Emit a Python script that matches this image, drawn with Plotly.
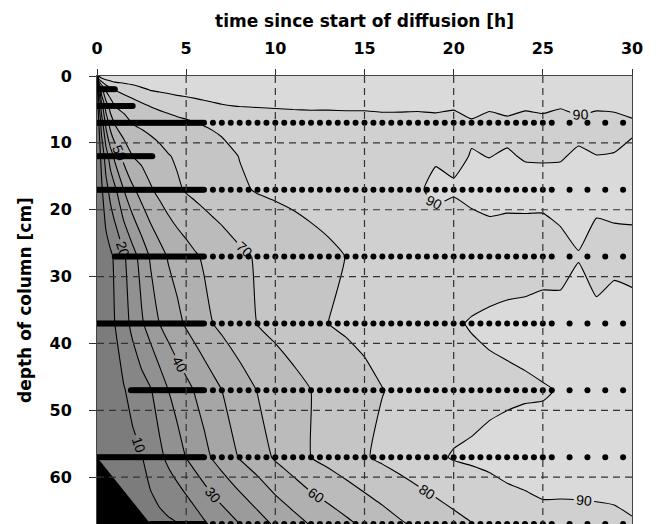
import numpy as np
import plotly.graph_objects as go

# ---------------- data ----------------
TIME_H = [0, 0.1, 0.25, 0.5, 0.75, 1, 1.5, 2, 2.5, 3, 3.5, 4, 4.5, 5, 5.5, 6, 6.5, 7,
          8, 9, 10, 11, 12, 13, 14, 15, 16, 17, 18, 19, 20, 21, 22, 23, 24, 25, 26,
          27, 28, 29, 30]
DEPTH_CM = [0, 2, 4.5, 7, 12, 17, 27, 37, 47, 57, 67]

Z_D0 = [0, 94, 96, 97, 97.5, 98, 98, 98, 98, 98, 98, 98, 98, 98, 98, 98, 98, 98, 98, 98,
        98, 98, 98, 98, 98, 98, 98, 98, 98, 98, 98, 98, 98, 98, 98, 98, 98, 98, 98, 98, 98]
Z_D2 = [0, 30, 56.3, 71.7, 76.9, 80.5, 83.2, 85.8, 88.6, 90.6, 91.5, 92.2, 92.8, 93.2,
        93.5, 93.8, 94.0, 94.1, 94.3, 94.5, 94.5, 94.5, 94.5, 94.5, 94.5, 94.5, 94.5,
        94.5, 94.5, 94.5, 94.5, 94.5, 94.5, 94.5, 94.5, 94.5, 94.5, 94.5, 94.5, 94.5, 94.5]
Z_D4_5 = [0, 16.7, 35, 54.4, 63.8, 70, 72.6, 75.3, 77.9, 80.3, 81.9, 83.4, 85.0, 86.0,
          87.0, 88.0, 88.8, 89.5, 90.2, 90.6, 90.9, 91.1, 91.2, 90.95, 91.1, 91.05, 91.5,
          91.4, 91.2, 91.7, 90.8, 93.3, 91.2, 92.25, 91.0, 91.8, 90.5, 92.3, 91.0, 91.4, 93.9]
Z_D7 = [0, 10, 24.2, 42.9, 54.6, 61.1, 66.7, 70.5, 71.8, 73.2, 74.5, 75.8, 77.1, 78.4,
        79.7, 80.5, 81.1, 81.7, 82.8, 83.8, 84.7, 85.6, 86.3, 87.0, 87.2, 87.3, 87.4,
        87.5, 87.5, 87.5, 87.5, 89.0, 87.5, 88.5, 87.5, 87.8, 87.3, 88.2, 87.5, 87.6, 88.5]
Z_D12 = [0, 5, 12.5, 24.5, 34.6, 42.5, 52.9, 60, 62.4, 64.8, 67.1, 69.5, 71.1, 72.4,
         73.7, 75.1, 76.4, 77.7, 80.2, 81.2, 82.1, 83.0, 83.8, 84.6, 85.4, 86.2, 87.0,
         87.8, 88.5, 89.1, 88.5, 90.3, 89.9, 90.5, 89.6, 89.5, 89.6, 90.8, 90.1, 90.3, 91.8]
Z_D17 = [0, 3.3, 8.3, 16.7, 23, 28, 40, 48.3, 54, 59, 62.5, 65.6, 68.75, 70.8, 72.2,
         73.5, 74.9, 76.2, 78.9, 80.6, 81.5, 82.4, 83.4, 84.3, 85.3, 86.2, 87.1, 88.1,
         89.0, 92, 90.8, 92, 92, 92, 92, 92, 92, 92, 92, 92, 92]
Z_D27 = [0, 1.1, 2.8, 5.6, 8.3, 11.4, 18.6, 26.2, 33.8, 41.1, 46.3, 50.8, 53.5, 56.2,
         58.9, 61.1, 62.9, 64.6, 68.2, 70.9, 72.8, 74.6, 76.5, 78.3, 80.2, 81.2, 82,
         82.6, 83, 83.3, 83.5, 84.9, 87, 86.3, 86.4, 86.3, 88.4, 89.8, 87.3, 88, 88.2]
Z_D37 = [0, 1, 2.5, 5, 7.5, 10, 16.25, 22.5, 28.75, 34.4, 40, 43.8, 47.7, 51.2, 54.1,
         57.1, 60, 62.1, 66.25, 70.25, 72.75, 75.25, 77.75, 80.1, 81.4, 82.7, 83.9, 85.2,
         86.5, 87.7, 89.0, 90.6, 91, 92, 92.4, 93.7, 91.6, 92, 91.8, 93.6, 92.1]
Z_D47 = [0, 0.6, 1.6, 3.1, 4.7, 6.25, 9.4, 12.7, 16, 19.3, 24.4, 30, 33.6, 37.1, 40.6,
         43.75, 46.9, 50, 55.3, 60.3, 63.5, 66.8, 70, 72.4, 74.9, 77.3, 79.8, 81.2, 82.6,
         83.9, 85.3, 86.6, 88.5, 88.4, 89.0, 89.5, 90.3, 91.5, 92, 92, 92]
Z_D57 = [0, 0.4, 1, 1.9, 2.9, 3.8, 5.8, 7.7, 9.6, 13.5, 17.8, 22.1, 26.2, 30.3, 33.8,
         37.3, 40.9, 44.2, 50.7, 55.5, 61.2, 65.6, 70, 73.1, 76.2, 79.2, 81.7, 83.9, 86.2,
         88.4, 90.7, 91.5, 91.8, 93.7, 94, 92.6, 93, 93, 93, 93, 93]
Z_D67 = [0, 0.2, 0.5, 1.1, 1.6, 2.1, 3.2, 4.3, 5.3, 6.4, 7.4, 8.5, 9.6, 12, 15.3, 18.7,
         21.7, 24.4, 30, 35.9, 41.4, 46.2, 50.7, 54.4, 58.1, 61.8, 65.4, 68.9, 71.8, 74.5,
         77.1, 79.7, 84, 84.2, 86, 88.5, 88.2, 88.3, 88.5, 88.8, 89.6]

LEVEL_START, LEVEL_END, LEVEL_STEP = 10, 90, 10

# measurement schedule (sampling rows)
ROW_DEPTHS = [2, 4.5, 7, 12, 17, 27, 37, 47, 57, 67]
DENSE_START = [0, 0, 0, 0, 0, 1.0, 0, 1.9, 0, 3.0]
DENSE_END = [1.0, 2.0, 6.0, 3.1, 6.0, 6.0, 6.0, 6.0, 6.0, 6.0]
HAS_SPARSE = [False, False, True, False, True, True, True, True, True, True]
DENSE_STEP_H = 0.1
HALF_HOURLY = (6.5, 25.5, 0.5)
HOURLY = (26.5, 29.5, 1.0)

X_TICKS = [0, 5, 10, 15, 20, 25, 30]
Y_TICKS = [0, 10, 20, 30, 40, 50, 60]
X_RANGE = [0, 30]
Y_RANGE = [67, 0]

# ---------------- figure ----------------
Z = [Z_D0, Z_D2, Z_D4_5, Z_D7, Z_D12, Z_D17, Z_D27, Z_D37, Z_D47, Z_D57, Z_D67]

fig = go.Figure()
fig.add_trace(go.Contour(
    x=TIME_H, y=DEPTH_CM, z=Z,
    contours=dict(start=LEVEL_START, end=LEVEL_END, size=LEVEL_STEP,
                  coloring='fill', showlabels=True,
                  labelfont=dict(size=14, color='black', family='Liberation Sans')),
    colorscale=[[0, '#7c7c7c'], [1, '#dadada']],
    line=dict(color='black', width=1.1, smoothing=0.4),
    showscale=False, hoverinfo='skip'))

# region without data (below the 57 cm row, before the 67 cm row starts)
fig.add_trace(go.Scatter(
    x=[0, DENSE_START[-1], 0], y=[ROW_DEPTHS[-2], ROW_DEPTHS[-1], ROW_DEPTHS[-1]],
    fill='toself', fillcolor='black', mode='lines', line=dict(width=0, color='black'),
    hoverinfo='skip'))

xs, ys = [], []
for d, s, e, sp in zip(ROW_DEPTHS, DENSE_START, DENSE_END, HAS_SPARSE):
    t = list(np.arange(s, e + 1e-9, DENSE_STEP_H))
    if sp:
        t += list(np.arange(HALF_HOURLY[0], HALF_HOURLY[1] + 1e-9, HALF_HOURLY[2]))
        t += list(np.arange(HOURLY[0], HOURLY[1] + 1e-9, HOURLY[2]))
    xs += t
    ys += [d] * len(t)
fig.add_trace(go.Scatter(x=xs, y=ys, mode='markers',
                         marker=dict(size=6, color='black'), hoverinfo='skip'))

shapes = []
for xv in X_TICKS[1:-1]:
    shapes.append(dict(type='line', xref='x', yref='y', x0=xv, x1=xv,
                       y0=Y_RANGE[1], y1=Y_RANGE[0], layer='above',
                       line=dict(color='#333333', width=1.2, dash='7px,5px')))
for yv in Y_TICKS[1:]:
    shapes.append(dict(type='line', xref='x', yref='y', x0=X_RANGE[0], x1=X_RANGE[1],
                       y0=yv, y1=yv, layer='above',
                       line=dict(color='#333333', width=1.2, dash='7px,5px')))

# the page body adds an 8 px offset, so the figure is sized to compensate
fig.update_layout(
    width=651, height=516, margin=dict(l=89, r=27, t=68, b=0),
    paper_bgcolor='white', plot_bgcolor='white', showlegend=False,
    font=dict(family='DejaVu Sans', color='black'), shapes=shapes)

fig.update_xaxes(range=X_RANGE, side='top', tickvals=X_TICKS, ticks='outside',
                 ticklen=6, tickcolor='#333333', ticklabelstandoff=9, automargin=False,
                 tickfont=dict(size=16, family='DejaVu Sans', weight='bold', color='black'),
                 showgrid=False, zeroline=False, showline=True, linecolor='#444444',
                 linewidth=1, mirror=True,
                 title=dict(text='time since start of diffusion [h]', standoff=6,
                            font=dict(size=17, family='DejaVu Sans', weight='bold')))
fig.update_yaxes(range=Y_RANGE, tickvals=Y_TICKS, ticks='outside', ticklen=7,
                 tickcolor='#333333', ticklabelstandoff=14, automargin=False,
                 tickfont=dict(size=16, family='DejaVu Sans', weight='bold', color='black'),
                 showgrid=False, zeroline=False, showline=True, linecolor='#444444',
                 linewidth=1, mirror=True,
                 title=dict(text='depth of column [cm]', standoff=13,
                            font=dict(size=17, family='DejaVu Sans', weight='bold')))

fig.write_html("out.html")
